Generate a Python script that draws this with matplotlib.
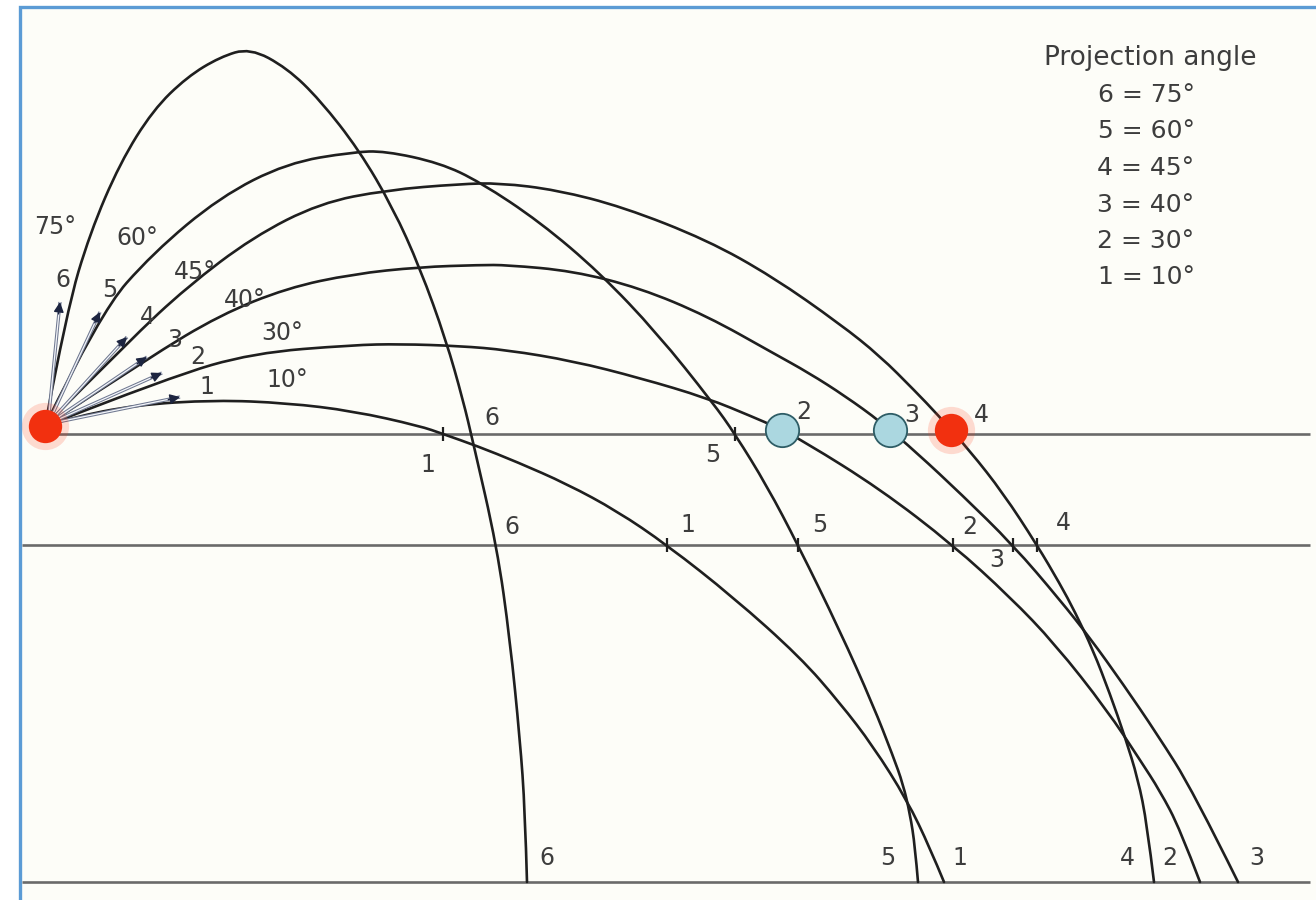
import numpy as np
import matplotlib.pyplot as plt
from matplotlib.path import Path
from matplotlib.patches import PathPatch, Rectangle

plt.rcParams['font.family'] = ['DejaVu Sans']

# projection angles (degrees) and the number used for each path
angles = [10, 30, 40, 45, 60, 75]
names = ['1', '2', '3', '4', '5', '6']

# flight paths: horizontal distance and height above the release line
c1_x = [0, 25, 90, 170, 242, 308, 375, 398, 432, 472, 522, 572, 622, 688, 755, 795, 828, 862, 885, 899]
c1_h = [8, 16, 29, 34, 31, 23, 8, 0, -12, -28, -50, -77, -111, -163, -223, -269, -312, -366, -414, -448]

c2_x = [0, 125, 208, 308, 355, 415, 462, 528, 595, 662, 708, 731, 760, 835, 908, 965, 1010, 1062, 1095, 1115, 1135, 1155]
c2_h = [8, 57, 81, 89, 90, 88, 84, 73, 56, 36, 17, 7, -8, -55, -111, -163, -210, -276, -326, -357, -395, -448]

c3_x = [0, 105, 175, 242, 308, 375, 435, 462, 528, 595, 662, 728, 764, 800, 836, 872, 916, 968, 1015, 1045, 1078, 1112, 1148, 1193]
c3_h = [8, 77, 119, 146, 160, 167, 169, 169, 163, 146, 118, 81, 61, 38, 12, -19, -60, -111, -166, -204, -250, -300, -357, -448]

c4_x = [0, 85, 142, 208, 275, 342, 415, 455, 512, 578, 662, 728, 795, 835, 870, 892, 925, 958, 992, 1015, 1030, 1048, 1065, 1080, 1093, 1102, 1109]
c4_h = [8, 94, 147, 197, 231, 244, 250, 251, 244, 227, 194, 157, 110, 78, 43, 20, -17, -59, -111, -150, -178, -216, -260, -303, -345, -390, -448]

c5_x = [0, 55, 108, 175, 242, 308, 340, 395, 435, 495, 555, 612, 668, 690, 722, 753, 795, 828, 848, 858, 865, 870, 873]
c5_h = [8, 121, 181, 237, 271, 282, 283, 271, 252, 212, 161, 101, 31, 0, -52, -111, -197, -271, -322, -350, -380, -412, -448]

c6_x = [0, 22, 45, 75, 108, 142, 175, 205, 242, 275, 314, 348, 375, 401, 418, 428, 452, 465, 475, 480, 482]
c6_h = [8, 124, 201, 271, 324, 357, 377, 386, 366, 334, 284, 226, 166, 94, 34, -8, -113, -206, -306, -376, -448]

curve_x = [c1_x, c2_x, c3_x, c4_x, c5_x, c6_x]
curve_h = [c1_h, c2_h, c3_h, c4_h, c5_h, c6_h]

# release line, middle line and floor
levels = [0, -111, -448]

# launch arrow tips, same order as angles
arrow_x = [135, 117, 102, 82, 55, 15]
arrow_h = [37, 61, 77, 97, 122, 132]

INK = '#1f1f1f'
TXT = '#3d3d3d'


def smooth_path(xs, hs):
    # quadratic bezier through the midpoints of the traced points
    pts = np.column_stack([xs, hs]).astype(float)
    verts = [pts[0]]
    codes = [Path.MOVETO]
    for i in range(1, len(pts) - 1):
        end = (pts[i] + pts[i + 1]) / 2 if i < len(pts) - 2 else pts[i + 1]
        verts += [pts[i], end]
        codes += [Path.CURVE3, Path.CURVE3]
    return Path(verts, codes)


def crossing(xs, hs, level):
    # x where the falling branch passes a given height
    for i in range(len(hs) - 1, 0, -1):
        if hs[i - 1] >= level >= hs[i]:
            t = (hs[i - 1] - level) / (hs[i - 1] - hs[i])
            return xs[i - 1] + t * (xs[i] - xs[i - 1])
    return None


fig = plt.figure(figsize=(13.16, 9), dpi=100)
ax = fig.add_axes([0, 0, 1, 1])
ax.set_xlim(-45, 1271)
ax.set_ylim(-466, 434)
ax.axis('off')

ax.add_patch(Rectangle((-25, -520), 1400, 947, facecolor='#fdfdf8',
                       edgecolor='#5b9bd5', lw=2.4, zorder=0))

# horizontal reference lines
ax.hlines(levels[0], 0, 1265, color='#6a6a6a', lw=1.9, zorder=1)
ax.hlines(levels[1:], -23, 1265, color='#6a6a6a', lw=1.9, zorder=1)

for xs, hs in zip(curve_x, curve_h):
    ax.add_patch(PathPatch(smooth_path(xs, hs), fill=False, ec=INK, lw=1.9,
                           capstyle='round', zorder=3))

# launch arrows: hollow shaft with a dark head
x0, h0 = c1_x[0], c1_h[0]
for tx, th in zip(arrow_x, arrow_h):
    ax.plot([x0 + 3, tx], [h0 + 2, th], color='#6f7890', lw=2.4,
            solid_capstyle='butt', zorder=4)
    ax.plot([x0 + 3, tx], [h0 + 2, th], color='#f4f6fa', lw=0.9,
            solid_capstyle='butt', zorder=4)
    ux, uh = tx - x0, th - h0
    d = np.hypot(ux, uh)
    ax.annotate('', xy=(tx, th), xytext=(tx - 12 * ux / d, th - 12 * uh / d),
                arrowprops=dict(arrowstyle='-|>', color='#1d2540', lw=1.0,
                                mutation_scale=15, shrinkA=0, shrinkB=0),
                zorder=5)

# numbers next to arrows and angle labels
num_pos = [(162, 47), (153, 77), (130, 94), (102, 117), (65, 144), (18, 154)]
ang_pos = [(242, 54), (237, 101), (200, 134), (150, 162), (92, 196), (10, 207)]
for n, a, (nx, nh), (gx, gh) in zip(names, angles, num_pos, ang_pos):
    ax.text(nx, nh, n, fontsize=17, color=TXT, ha='center', va='center', zorder=5)
    ax.text(gx, gh, f'{a}°', fontsize=17, color=TXT, ha='center', va='center', zorder=5)

# number labels where each path meets each line
label_offsets = [
    {'1': (-15, -31), '6': (21, 16), '5': (-22, -21), '2': (14, 22), '3': (17, 19), '4': (27, 19)},
    {'6': (15, 18), '1': (21, 20), '5': (22, 20), '2': (17, 18), '3': (-16, -15), '4': (26, 22)},
    {'6': (20, 24), '5': (-30, 24), '1': (16, 24), '4': (-27, 24), '2': (-30, 24), '3': (19, 24)},
]
ticked = [['1', '5'], ['1', '5', '2', '3', '4'], []]

for k, level in enumerate(levels):
    for n, xs, hs in zip(names, curve_x, curve_h):
        xc = crossing(xs, hs, level)
        dx, dy = label_offsets[k][n]
        ax.text(xc + dx, level + dy, n, fontsize=17, color=TXT,
                ha='center', va='center', zorder=2)
        if n in ticked[k]:
            ax.plot(xc, level, marker='|', ms=10, mew=1.6, color=INK, zorder=4)

# release point and landing marks on the release line
ax.plot(x0, h0, 'o', ms=34, color='#ff3b1a', alpha=0.18, mew=0, zorder=5)
ax.plot(x0, h0, 'o', ms=24, color='#f2300f', mew=0, zorder=6)
for n, xs, hs in zip(names, curve_x, curve_h):
    if n in ('2', '3'):
        ax.plot(crossing(xs, hs, 4), 4, 'o', ms=24, mfc='#abd7e0',
                mec='#2e5d66', mew=1.3, zorder=6)
    if n == '4':
        xc = crossing(xs, hs, 4)
        ax.plot(xc, 4, 'o', ms=34, color='#ff3b1a', alpha=0.18, mew=0, zorder=5)
        ax.plot(xc, 4, 'o', ms=24, color='#f2300f', mew=0, zorder=6)

# key
ax.text(1105, 376, 'Projection angle', fontsize=19, color=TXT,
        ha='center', va='center')
for i, (n, a) in enumerate(zip(names[::-1], angles[::-1])):
    ax.text(1101, 339 - i * 36.5, f'{n} = {a}°', fontsize=18, color=TXT,
            ha='center', va='center')

fig.savefig('out.png', dpi=100, facecolor='white')
